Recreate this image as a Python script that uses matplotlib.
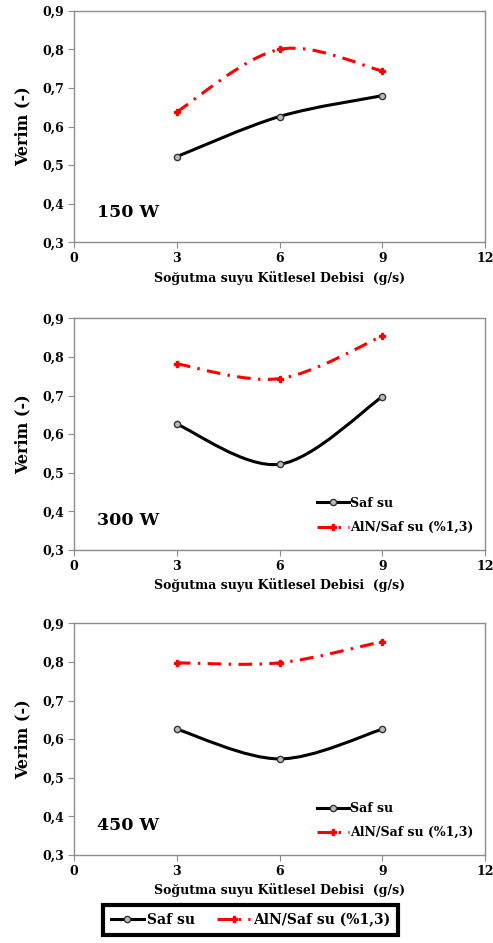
import matplotlib
matplotlib.use("Agg")
import matplotlib.pyplot as plt
from matplotlib.path import Path
from matplotlib.patches import PathPatch
from matplotlib.lines import Line2D
import numpy as np

# data
debi = [3, 6, 9]
saf_su_150 = [0.522, 0.626, 0.680]
aln_150 = [0.638, 0.800, 0.744]
saf_su_300 = [0.626, 0.522, 0.697]
aln_300 = [0.782, 0.744, 0.854]
saf_su_450 = [0.626, 0.549, 0.626]
aln_450 = [0.798, 0.798, 0.853]
power_labels = ["150 W", "300 W", "450 W"]
x_ticks = [0, 3, 6, 9, 12]
y_ticks = [0.3, 0.4, 0.5, 0.6, 0.7, 0.8, 0.9]

FONT = "DejaVu Serif"
RED_DASH = (0, (4.5, 2.4, 0.8, 2.4))


def smooth_path(x, y):
    # excel style smoothed line: bezier segments with catmull-rom tangents
    p = np.column_stack([x, y]).astype(float)
    n = len(p)
    verts = [p[0]]
    codes = [Path.MOVETO]
    for i in range(n - 1):
        p_prev = p[i - 1] if i > 0 else p[i]
        p_next2 = p[i + 2] if i + 2 < n else p[i + 1]
        c1 = p[i] + (p[i + 1] - p_prev) / 6
        c2 = p[i + 1] - (p_next2 - p[i]) / 6
        verts += [c1, c2, p[i + 1]]
        codes += [Path.CURVE4] * 3
    return Path(verts, codes)


def draw_series(ax, x, y, color, ls, marker, mfc, ms):
    patch = PathPatch(smooth_path(x, y), facecolor="none", edgecolor=color,
                      lw=2.2, linestyle=ls, capstyle="butt")
    ax.add_patch(patch)
    ax.plot(x, y, ls="none", marker=marker, color=color, mfc=mfc,
            mec=color if color != "black" else "#333333", ms=ms, mew=1.0)


def handles():
    h1 = Line2D([], [], color="black", lw=2.2, marker="o", ms=4.5,
                mfc="#bbbbbb", mec="#333333", mew=1.0)
    h2 = Line2D([], [], color="red", lw=2.2, ls=RED_DASH, marker="P",
                ms=5, mfc="red", mec="red")
    return [h1, h2]


fig = plt.figure(figsize=(4.93, 9.43), dpi=100)
series = [(saf_su_150, aln_150), (saf_su_300, aln_300), (saf_su_450, aln_450)]
bottoms = [0.7430, 0.4168, 0.0933]

for k, (saf, aln) in enumerate(series):
    ax = fig.add_axes([0.150, bottoms[k], 0.834, 0.2456])
    draw_series(ax, debi, aln, "red", RED_DASH, "P", "red", 5)
    draw_series(ax, debi, saf, "black", "-", "o", "#bbbbbb", 4.5)
    ax.set_xlim(0, 12)
    ax.set_ylim(0.3, 0.9)
    ax.set_xticks(x_ticks)
    ax.set_yticks(y_ticks)
    ax.set_xticklabels([str(t) for t in x_ticks], fontfamily=FONT,
                       fontweight="bold", fontsize=9)
    ax.set_yticklabels([f"{t:.1f}".replace(".", ",") for t in y_ticks],
                       fontfamily=FONT, fontweight="bold", fontsize=9)
    for s in ax.spines.values():
        s.set_color("#8c8c8c")
        s.set_linewidth(1.0)
    ax.tick_params(direction="out", length=4, color="#8c8c8c", pad=3)
    ax.set_xlabel("Soğutma suyu Kütlesel Debisi  (g/s)", fontfamily=FONT,
                  fontweight="bold", fontsize=9, labelpad=4)
    ax.set_ylabel("Verim (-)", fontfamily=FONT, fontweight="bold",
                  fontsize=11.5, labelpad=8)
    ax.text(0.67, 0.377, power_labels[k], fontfamily=FONT, fontweight="bold",
            fontsize=12.5, va="center", ha="left")
    if k > 0:
        ax.legend(handles(), ["Saf su", "AlN/Saf su (%1,3)"],
                  loc="lower right", bbox_to_anchor=(1.0, 0.02),
                  frameon=False, handlelength=2.6, handletextpad=0.1,
                  labelspacing=0.9,
                  prop={"family": FONT, "weight": "bold", "size": 9})

leg = fig.legend(handles(), ["Saf su", "AlN/Saf su (%1,3)"],
                 loc="center", bbox_to_anchor=(0.508, 0.0245), ncol=2,
                 frameon=True, fancybox=False, framealpha=1,
                 handlelength=2.4, handletextpad=0.2, columnspacing=1.6,
                 borderpad=0.55, borderaxespad=0,
                 prop={"family": FONT, "weight": "bold", "size": 10})
leg.get_frame().set_edgecolor("black")
leg.get_frame().set_linewidth(3)

fig.savefig("out.png", dpi=100)
